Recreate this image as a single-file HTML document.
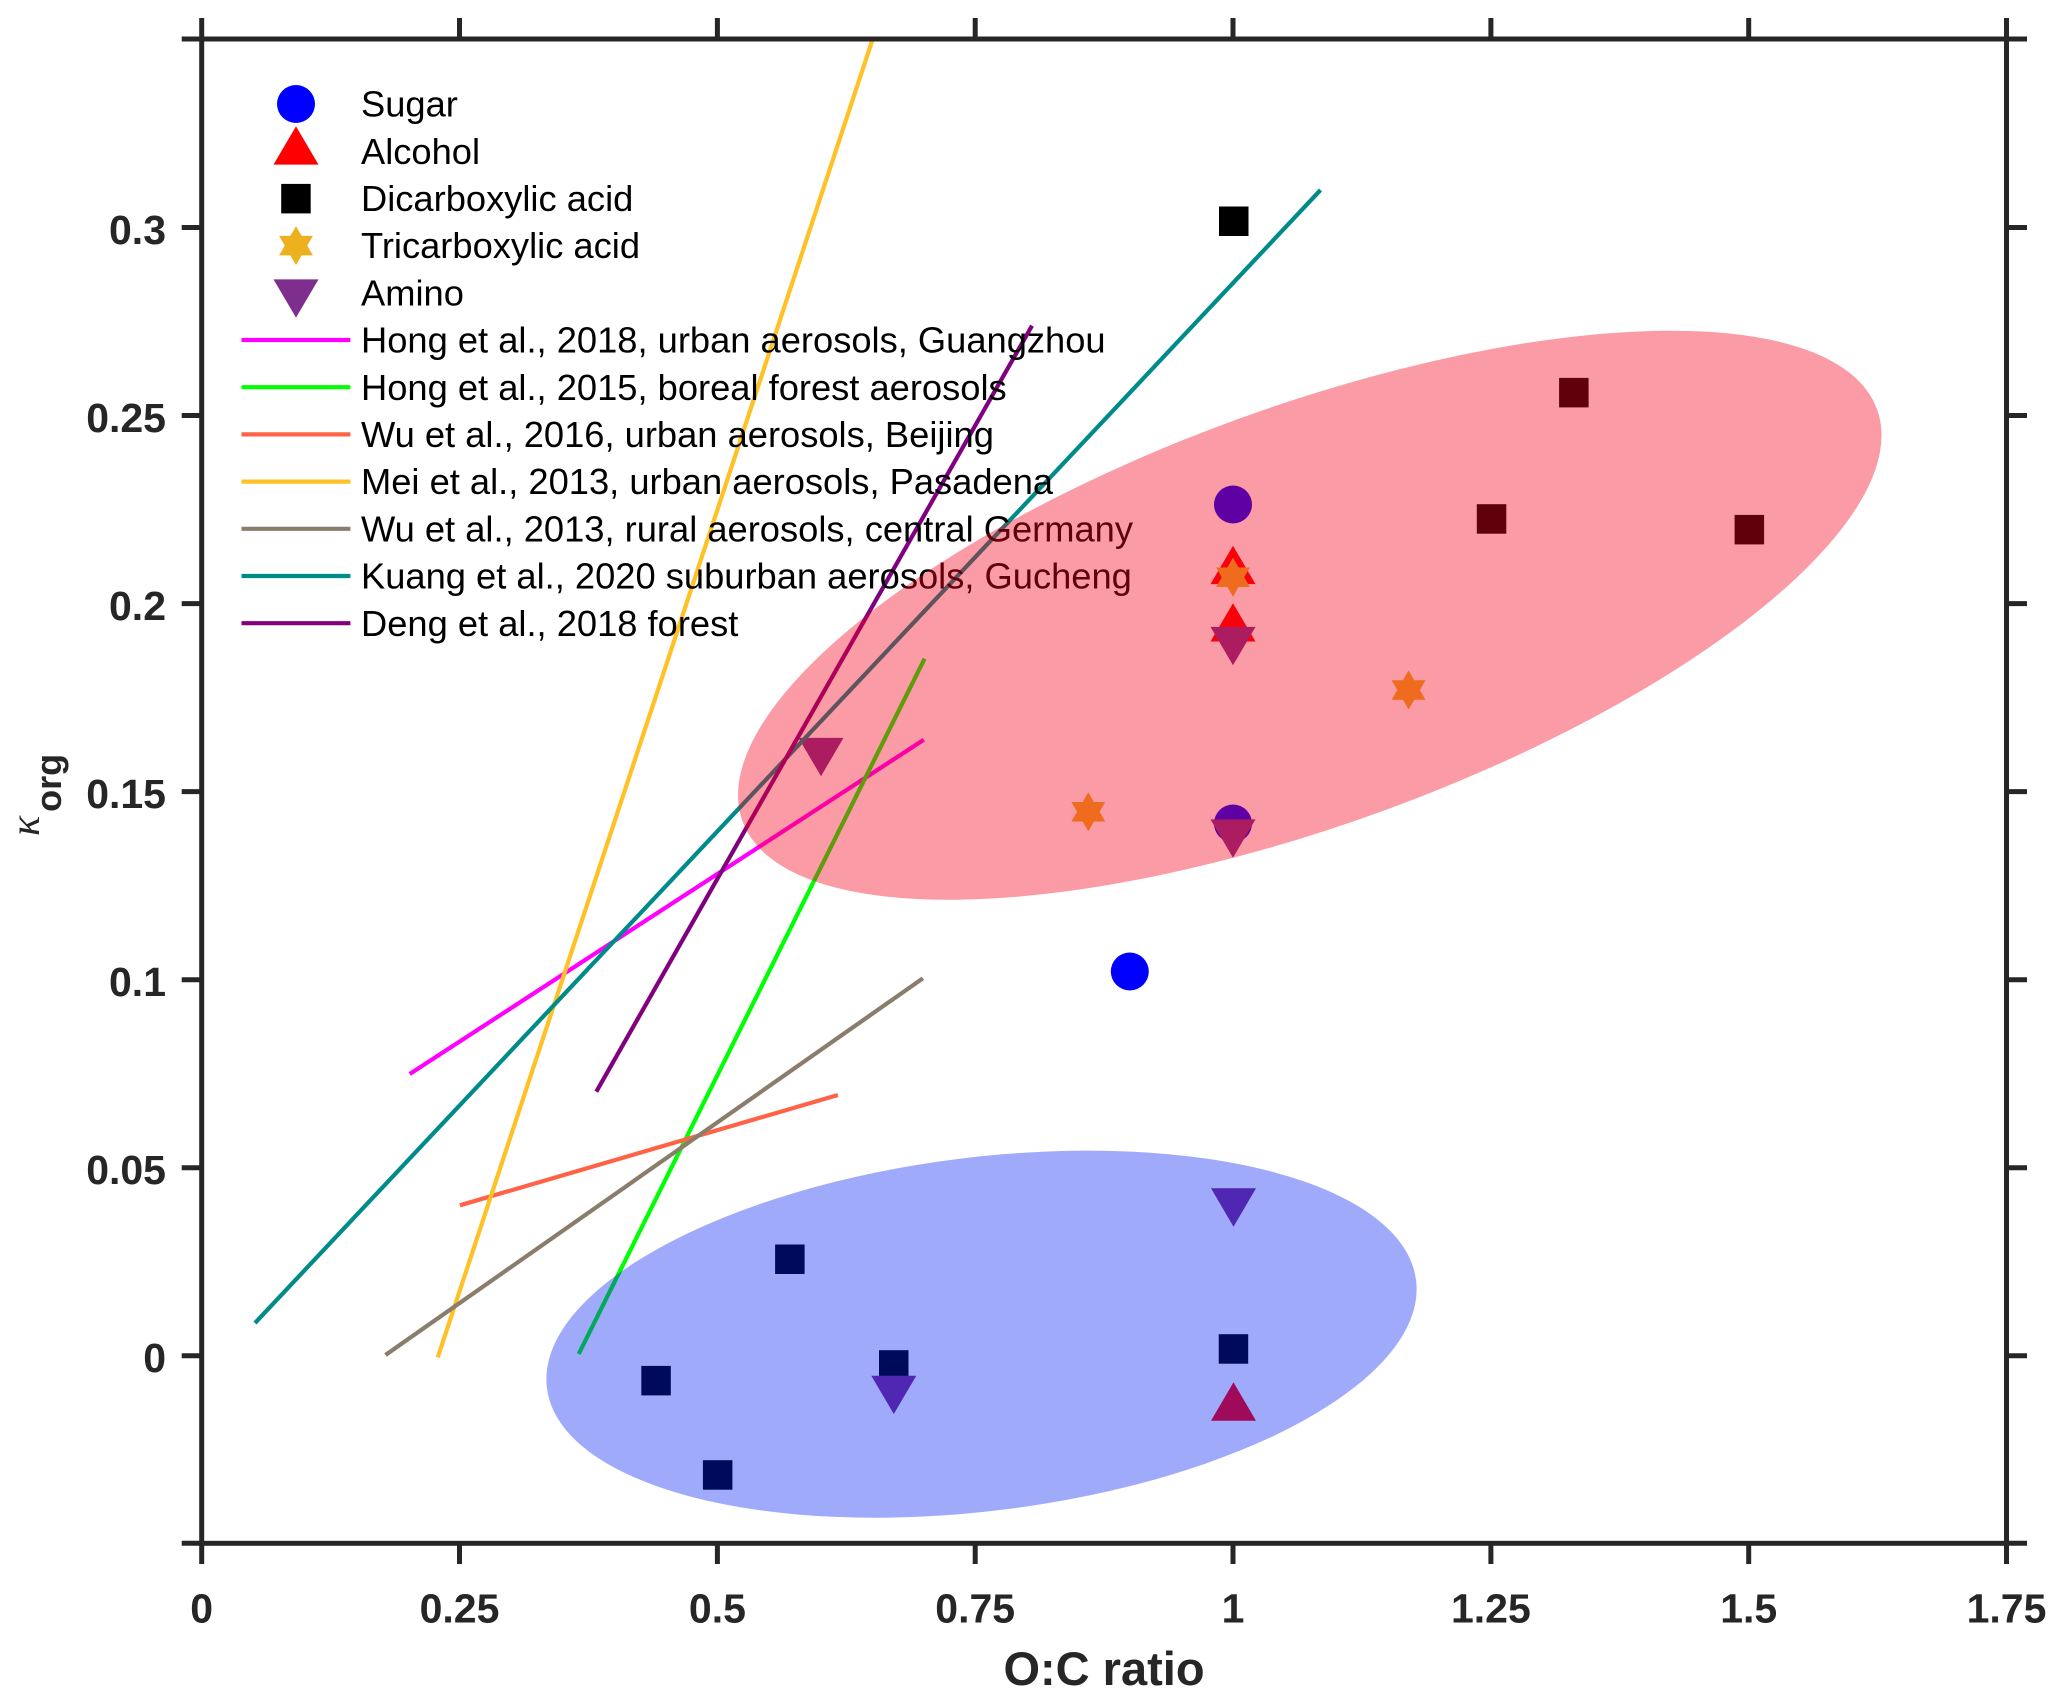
<!DOCTYPE html>
<html>
<head>
<meta charset="utf-8">
<style>
  html, body { margin:0; padding:0; background:#ffffff; }
  svg { display:block; }
  .tl { font-family:"Liberation Sans", Arial, sans-serif; font-weight:bold; font-size:41px; fill:#262626; }
  .lg { font-family:"Liberation Sans", Arial, sans-serif; font-size:36.3px; fill:#000000; }
</style>
</head>
<body>
<svg width="2067" height="1704" viewBox="0 0 2067 1704" xmlns="http://www.w3.org/2000/svg">
  <rect x="0" y="0" width="2067" height="1704" fill="#ffffff"/>

  <defs>
    <clipPath id="plotclip"><rect x="201.7" y="39" width="1804.8" height="1504.3"/></clipPath>
  </defs>

  <!-- Data markers -->
  <g>
    <!-- Sugar -->
    <circle cx="1129.8" cy="971.5" r="19" fill="#0000ff"/>
    <circle cx="1233" cy="504.5" r="19" fill="#0000ff"/>
    <circle cx="1233" cy="823.5" r="19" fill="#0000ff"/>
    <!-- Alcohol (up triangles) -->
    <path d="M1233,545.8 L1255.5,584.1 L1210.5,584.1 Z" fill="#ff0000"/>
    <path d="M1233,603.2 L1255.5,641.5 L1210.5,641.5 Z" fill="#ff0000"/>
    <path d="M1233.5,1382.3 L1256,1420.7 L1211,1420.7 Z" fill="#ff0000"/>
    <!-- Dicarboxylic acid (squares) -->
    <rect x="1219" y="206.5" width="29.5" height="29.5" fill="#000000"/>
    <rect x="1559.1" y="377.9" width="29.5" height="29.5" fill="#000000"/>
    <rect x="1476.8" y="504.2" width="29.5" height="29.5" fill="#000000"/>
    <rect x="1734.6" y="514.9" width="29.5" height="29.5" fill="#000000"/>
    <rect x="775.1" y="1244.5" width="29.5" height="29.5" fill="#000000"/>
    <rect x="641.3" y="1365.9" width="29.5" height="29.5" fill="#000000"/>
    <rect x="702.9" y="1460.2" width="29.5" height="29.5" fill="#000000"/>
    <rect x="879" y="1350.2" width="29.5" height="29.5" fill="#000000"/>
    <rect x="1218.7" y="1334.2" width="29.5" height="29.5" fill="#000000"/>
    <!-- Tricarboxylic acid (hexagrams) -->
    <g fill="#edb120">
      <path transform="translate(1233,577.2)" d="M0,-19.5 L5.63,-9.75 L16.89,-9.75 L11.26,0 L16.89,9.75 L5.63,9.75 L0,19.5 L-5.63,9.75 L-16.89,9.75 L-11.26,0 L-16.89,-9.75 L-5.63,-9.75 Z"/>
      <path transform="translate(1408.6,690)" d="M0,-19.5 L5.63,-9.75 L16.89,-9.75 L11.26,0 L16.89,9.75 L5.63,9.75 L0,19.5 L-5.63,9.75 L-16.89,9.75 L-11.26,0 L-16.89,-9.75 L-5.63,-9.75 Z"/>
      <path transform="translate(1088.3,811.8)" d="M0,-19.5 L5.63,-9.75 L16.89,-9.75 L11.26,0 L16.89,9.75 L5.63,9.75 L0,19.5 L-5.63,9.75 L-16.89,9.75 L-11.26,0 L-16.89,-9.75 L-5.63,-9.75 Z"/>
    </g>
    <!-- Amino (down triangles) -->
    <g fill="#7e2f8e">
      <path d="M798.5,737.9 L843.5,737.9 L821,776.2 Z"/>
      <path d="M1210.5,626.9 L1255.5,626.9 L1233,665.2 Z"/>
      <path d="M1210.5,819.4 L1255.5,819.4 L1233,857.7 Z"/>
      <path d="M1211,1188.3 L1256,1188.3 L1233.5,1226.7 Z"/>
      <path d="M871.3,1375.7 L916.3,1375.7 L893.8,1414 Z"/>
    </g>
  </g>

  <!-- Fitted lines -->
  <g clip-path="url(#plotclip)" fill="none" stroke-width="4.2" stroke-linecap="butt">
    <line x1="409.7" y1="1074" x2="923.8" y2="739.8" stroke="#ff00ff"/>
    <line x1="578.7" y1="1354" x2="924.6" y2="658.7" stroke="#00ff00"/>
    <line x1="459.9" y1="1205.3" x2="837.9" y2="1095" stroke="#ff6347"/>
    <line x1="437.7" y1="1357.5" x2="873.2" y2="37.5" stroke="#ffc125"/>
    <line x1="385.5" y1="1355" x2="922.9" y2="978.3" stroke="#8b7d6b"/>
    <line x1="255" y1="1323" x2="1320.5" y2="190" stroke="#008b8b"/>
    <line x1="596.3" y1="1091.7" x2="1032" y2="325.7" stroke="#800080"/>
  </g>

  <!-- Legend -->
  <g>
    <circle cx="296" cy="104" r="19" fill="#0000ff"/>
    <path d="M296,126.3 L318.5,164.6 L273.5,164.6 Z" fill="#ff0000"/>
    <rect x="281.2" y="183.9" width="29.5" height="29.5" fill="#000000"/>
    <path transform="translate(296,245.6)" fill="#edb120" d="M0,-19.5 L5.63,-9.75 L16.89,-9.75 L11.26,0 L16.89,9.75 L5.63,9.75 L0,19.5 L-5.63,9.75 L-16.89,9.75 L-11.26,0 L-16.89,-9.75 L-5.63,-9.75 Z"/>
    <path d="M273.5,279.4 L318.5,279.4 L296,317.6 Z" fill="#7e2f8e"/>
    <g stroke-width="4.2">
      <line x1="241.5" y1="340" x2="350.4" y2="340" stroke="#ff00ff"/>
      <line x1="241.5" y1="387.2" x2="350.4" y2="387.2" stroke="#00ff00"/>
      <line x1="241.5" y1="434.4" x2="350.4" y2="434.4" stroke="#ff6347"/>
      <line x1="241.5" y1="481.6" x2="350.4" y2="481.6" stroke="#ffc125"/>
      <line x1="241.5" y1="528.8" x2="350.4" y2="528.8" stroke="#8b7d6b"/>
      <line x1="241.5" y1="576" x2="350.4" y2="576" stroke="#008b8b"/>
      <line x1="241.5" y1="623.2" x2="350.4" y2="623.2" stroke="#800080"/>
    </g>
    <text class="lg" x="361" y="116.6">Sugar</text>
    <text class="lg" x="361" y="163.8">Alcohol</text>
    <text class="lg" x="361" y="211">Dicarboxylic acid</text>
    <text class="lg" x="361" y="258.2">Tricarboxylic acid</text>
    <text class="lg" x="361" y="305.4">Amino</text>
    <text class="lg" x="361" y="352.6">Hong et al., 2018, urban aerosols, Guangzhou</text>
    <text class="lg" x="361" y="399.8">Hong et al., 2015, boreal forest aerosols</text>
    <text class="lg" x="361" y="447">Wu et al., 2016, urban aerosols, Beijing</text>
    <text class="lg" x="361" y="494.2">Mei et al., 2013, urban aerosols, Pasadena</text>
    <text class="lg" x="361" y="541.4">Wu et al., 2013, rural aerosols, central Germany</text>
    <text class="lg" x="361" y="588.6">Kuang et al., 2020 suburban aerosols, Gucheng</text>
    <text class="lg" x="361" y="635.8">Deng et al., 2018 forest</text>
  </g>

  <!-- Shaded ellipses (on top, translucent) -->
  <ellipse cx="1309.75" cy="615.25" rx="603.5" ry="208.9" transform="rotate(-19.95 1309.75 615.25)" fill="rgb(242,0,25)" fill-opacity="0.392"/>
  <ellipse cx="981.5" cy="1334.2" rx="437.9" ry="176.8" transform="rotate(-7.06 981.5 1334.2)" fill="rgb(0,27,241)" fill-opacity="0.373"/>

  <!-- Axes box -->
  <g stroke="#262626" stroke-width="5" fill="none">
    <rect x="201.7" y="39" width="1804.8" height="1504.3"/>
    <path d="M181.7,1543.3 H201.7 M181.7,1355.8 H201.7 M181.7,1167.75 H201.7 M181.7,979.7 H201.7 M181.7,791.65 H201.7 M181.7,603.6 H201.7 M181.7,415.55 H201.7 M181.7,227.5 H201.7 M181.7,39 H201.7"/>
    <path d="M2006.5,1543.3 H2027 M2006.5,1355.8 H2027 M2006.5,1167.75 H2027 M2006.5,979.7 H2027 M2006.5,791.65 H2027 M2006.5,603.6 H2027 M2006.5,415.55 H2027 M2006.5,227.5 H2027 M2006.5,39 H2027"/>
    <path d="M201.7,1543.3 V1564 M459.5,1543.3 V1564 M717.4,1543.3 V1564 M975.2,1543.3 V1564 M1233,1543.3 V1564 M1490.9,1543.3 V1564 M1748.7,1543.3 V1564 M2006.5,1543.3 V1564"/>
    <path d="M201.7,18 V39 M459.5,18 V39 M717.4,18 V39 M975.2,18 V39 M1233,18 V39 M1490.9,18 V39 M1748.7,18 V39 M2006.5,18 V39"/>
  </g>

  <!-- Y tick labels -->
  <g class="tl" text-anchor="end">
    <text x="166" y="1372">0</text>
    <text x="166" y="1184">0.05</text>
    <text x="166" y="996">0.1</text>
    <text x="166" y="808">0.15</text>
    <text x="166" y="620">0.2</text>
    <text x="166" y="432">0.25</text>
    <text x="166" y="244">0.3</text>
  </g>

  <!-- X tick labels -->
  <g class="tl" text-anchor="middle">
    <text x="201.7" y="1622.5">0</text>
    <text x="459.5" y="1622.5">0.25</text>
    <text x="717.4" y="1622.5">0.5</text>
    <text x="975.2" y="1622.5">0.75</text>
    <text x="1233" y="1622.5">1</text>
    <text x="1490.9" y="1622.5">1.25</text>
    <text x="1748.7" y="1622.5">1.5</text>
    <text x="2006.5" y="1622.5">1.75</text>
  </g>

  <!-- X axis label -->
  <text x="1104" y="1685" text-anchor="middle" font-family="'Liberation Sans', Arial, sans-serif" font-weight="bold" font-size="47" fill="#262626">O:C ratio</text>

  <!-- Y axis label -->
  <text transform="translate(39,836) rotate(-90)" font-family="'Liberation Sans', Arial, sans-serif" fill="#262626"><tspan font-family="'Liberation Serif', 'DejaVu Serif', serif" font-style="italic" font-size="42">κ</tspan><tspan font-weight="bold" font-size="36" dy="22" dx="4">org</tspan></text>
</svg>
</body>
</html>
